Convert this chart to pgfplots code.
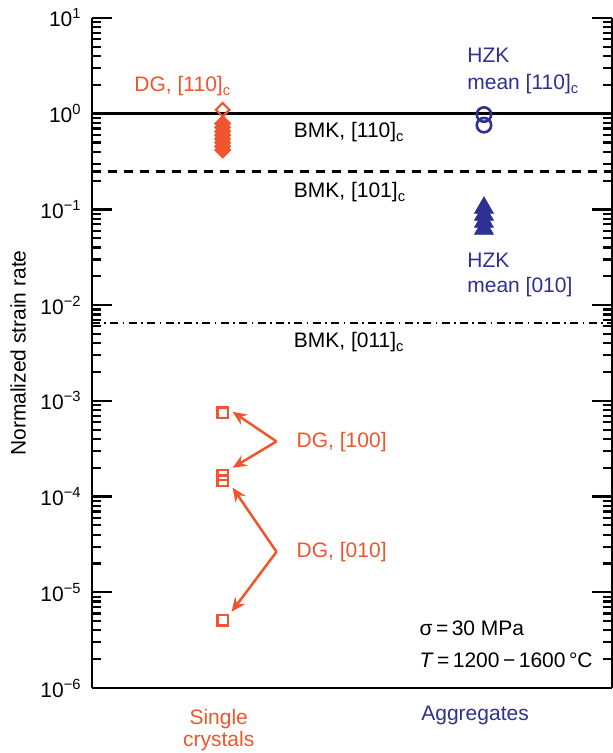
\documentclass[border=0pt]{standalone}
\usepackage{fontspec}
\setmainfont{Liberation Sans}
\usepackage{pgfplots}
\pgfplotsset{compat=1.18}
\usetikzlibrary{arrows.meta}

\definecolor{dgred}{RGB}{240,85,45}
\definecolor{hzkblue}{RGB}{46,49,146}

\begin{document}
\fontsize{10.5}{12.6}\selectfont
\begin{tikzpicture}[font=\fontsize{10.5}{12.6}\selectfont,
  lbl/.style={inner sep=0pt, anchor=base west},
  arr/.style={dgred, line width=1.25pt, -{Stealth[length=7pt, width=6pt]}}]
\begin{axis}[
  at={(0,0)}, anchor=south west,
  scale only axis, width=260pt, height=335pt,
  ymode=log, log basis y=10,
  ymin=1e-6, ymax=10,
  xmin=0.5, xmax=2.49,
  axis x line*=bottom, axis y line*=box,
  xtick=\empty,
  yticklabel={10\textsuperscript{\pgfmathtruncatemacro\ex{round(\tick)}\ifnum\ex<0 −\the\numexpr-\ex\relax\else\ex\fi}},
  yticklabel style={xshift=-1.5pt},
  tick align=inside,
  major tick length=10pt, minor tick length=4.5pt,
  tick style={black, line width=1.1pt},
  axis line style={line width=1.4pt},
  ylabel={Normalized strain rate},
  every axis y label/.style={at={(axis description cs:-0.142,0.5)}, rotate=90, anchor=center},
  clip=false,
]
% BMK model values
\addplot[black, line width=1.4pt] coordinates {(0.5,1) (2.49,1)};
\addplot[black, line width=1.4pt, dash pattern=on 4.7pt off 3.3pt] coordinates {(0.5,0.248) (2.49,0.248)};
\addplot[black, line width=1.4pt, dash pattern=on 4pt off 2.2pt on 0.8pt off 2.2pt] coordinates {(0.5,0.0065) (2.49,0.0065)};

% DG [110]c single crystals
\addplot[only marks, mark=square*, mark size=2.9pt,
  mark options={rotate=45, fill=dgred, draw=dgred, line width=0.3pt}]
  coordinates {(1,0.79) (1,0.72) (1,0.655) (1,0.598) (1,0.545) (1,0.498) (1,0.455) (1,0.418)};
\addplot[only marks, mark=square, mark size=2.4pt,
  mark options={rotate=45, draw=dgred, line width=1.1pt}]
  coordinates {(1,1.1)};

% DG [100] and [010]
\addplot[only marks, mark=square, mark size=2.6pt,
  mark options={draw=dgred, line width=1.2pt}]
  coordinates {(1,7.5e-4) (1,1.68e-4) (1,1.47e-4) (1,5.1e-6)};

% HZK aggregates
\addplot[only marks, mark=o, mark size=3.6pt,
  mark options={draw=hzkblue, line width=1.3pt}]
  coordinates {(2,0.98) (2,0.76)};
\addplot[only marks, mark=triangle*, mark size=5.5pt,
  mark options={fill=hzkblue, draw=hzkblue, line width=0.3pt}]
  coordinates {(2,0.104) (2,0.088) (2,0.0742) (2,0.0627)};

% arrows
\draw[arr] (axis cs:1.206,3.77e-4) -- (axis cs:1.038,7.69e-4);
\draw[arr] (axis cs:1.206,3.77e-4) -- (axis cs:1.038,2.0e-4);
\draw[arr] (axis cs:1.206,2.65e-5) -- (axis cs:1.038,1.24e-4);
\draw[arr] (axis cs:1.206,2.65e-5) -- (axis cs:1.034,6.25e-6);

% labels
\node[inner sep=0pt, anchor=base east, text=dgred] at (axis cs:1.034,1.698) {DG, [110]\textsubscript{c}};
\node[lbl, text=hzkblue] at (axis cs:1.935,3.41) {HZK};
\node[lbl, text=hzkblue] at (axis cs:1.935,1.78) {mean [110]\textsubscript{c}};
\node[lbl] at (axis cs:1.271,0.561) {BMK, [110]\textsubscript{c}};
\node[lbl] at (axis cs:1.271,0.1325) {BMK, [101]\textsubscript{c}};
\node[lbl] at (axis cs:1.271,3.59e-3) {BMK, [011]\textsubscript{c}};
\node[lbl, text=hzkblue] at (axis cs:1.935,0.0246) {HZK};
\node[lbl, text=hzkblue] at (axis cs:1.935,0.01348) {mean [010]};
\node[lbl, text=dgred] at (axis cs:1.282,3.24e-4) {DG, [100]};
\node[lbl, text=dgred] at (axis cs:1.282,2.29e-5) {DG, [010]};
\node[lbl] at (axis cs:1.752,3.51e-6) {σ\,=\,30 MPa};
\node[lbl] at (axis cs:1.752,1.63e-6) {\textit{T}\,=\,1200\,−\,1600\,°C};

\node[inner sep=0pt, anchor=base, text=dgred, yshift=-18pt] at (axis cs:0.985,1e-6) {Single};
\node[inner sep=0pt, anchor=base, text=dgred, yshift=-29pt] at (axis cs:0.985,1e-6) {crystals};
\node[inner sep=0pt, anchor=base, text=hzkblue, yshift=-16pt] at (axis cs:1.966,1e-6) {Aggregates};
\end{axis}
\pgfresetboundingbox
\path (-46pt,-32.5pt) rectangle (260.5pt,344pt);
\end{tikzpicture}
\end{document}
